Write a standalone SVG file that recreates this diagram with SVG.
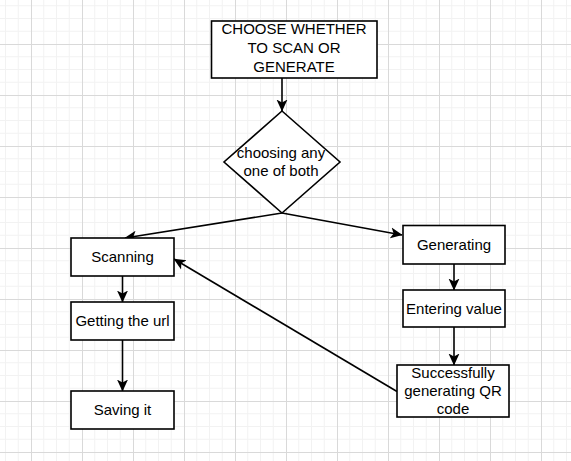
<svg xmlns="http://www.w3.org/2000/svg" width="571" height="461" viewBox="0 0 571 461">
  <defs>
    <pattern id="grid" patternUnits="userSpaceOnUse" x="31" y="44" width="51" height="51">
      <path d="M12.75 0V51M25.5 0V51M38.25 0V51M0 12.75H51M0 25.5H51M0 38.25H51" stroke="#f2f2f2" stroke-width="1" fill="none"/>
      <path d="M0.5 0V51M0 0.5H51" stroke="#d9d9d9" stroke-width="1" fill="none"/>
    </pattern>
    <marker id="arr" markerUnits="userSpaceOnUse" markerWidth="12" markerHeight="12" viewBox="0 0 12 12" refX="11.5" refY="6" orient="auto">
      <path d="M0,0.5 L12,6 L0,11.5 L3,6 z" fill="#000"/>
    </marker>
  </defs>
  <style>
    .box{fill:#fff;stroke:#000;stroke-width:1.6}
    .lbl{font-family:"Liberation Sans",Arial,sans-serif;font-size:15px;fill:#000;text-anchor:middle}
    .edge{stroke:#000;stroke-width:1.6;fill:none;marker-end:url(#arr)}
  </style>
  <rect width="571" height="461" fill="#fff"/>
  <rect width="571" height="461" fill="url(#grid)"/>

  <g id="connectors">
    <path class="edge" d="M282 78V111"/>
    <path class="edge" d="M282 213L125 238"/>
    <path class="edge" d="M282 213L402 235"/>
    <path class="edge" d="M122.5 276V302"/>
    <path class="edge" d="M122.5 340V391"/>
    <path class="edge" d="M454 264V290"/>
    <path class="edge" d="M454 327V365"/>
    <path class="edge" d="M397 391.5L174 259"/>
  </g>

  <g id="choose">
    <rect class="box" x="211.5" y="21" width="165.5" height="57"/>
    <text class="lbl" x="294" y="33.5">CHOOSE WHETHER</text>
    <text class="lbl" x="294" y="52.5">TO SCAN OR</text>
    <text class="lbl" x="294" y="71.5">GENERATE</text>
  </g>

  <g id="decision">
    <polygon class="box" points="282,111 340,162 282,213 224,162"/>
    <text class="lbl" x="281" y="158">choosing any</text>
    <text class="lbl" x="281" y="176">one of both</text>
  </g>

  <g id="scanning">
    <rect class="box" x="71" y="238" width="103" height="38"/>
    <text class="lbl" x="122.5" y="262.4">Scanning</text>
  </g>

  <g id="getting-url">
    <rect class="box" x="71" y="302" width="103" height="38"/>
    <text class="lbl" x="122.5" y="326.4">Getting the url</text>
  </g>

  <g id="saving">
    <rect class="box" x="71" y="391" width="103" height="38"/>
    <text class="lbl" x="122.5" y="415.4">Saving it</text>
  </g>

  <g id="generating">
    <rect class="box" x="403" y="225.5" width="102" height="38.5"/>
    <text class="lbl" x="454" y="250">Generating</text>
  </g>

  <g id="entering">
    <rect class="box" x="403" y="290" width="102" height="37"/>
    <text class="lbl" x="454" y="314">Entering value</text>
  </g>

  <g id="success">
    <rect class="box" x="397" y="365" width="112" height="52"/>
    <text class="lbl" x="453" y="378.4">Successfully</text>
    <text class="lbl" x="453" y="396.4">generating QR</text>
    <text class="lbl" x="453" y="414.4">code</text>
  </g>
</svg>
